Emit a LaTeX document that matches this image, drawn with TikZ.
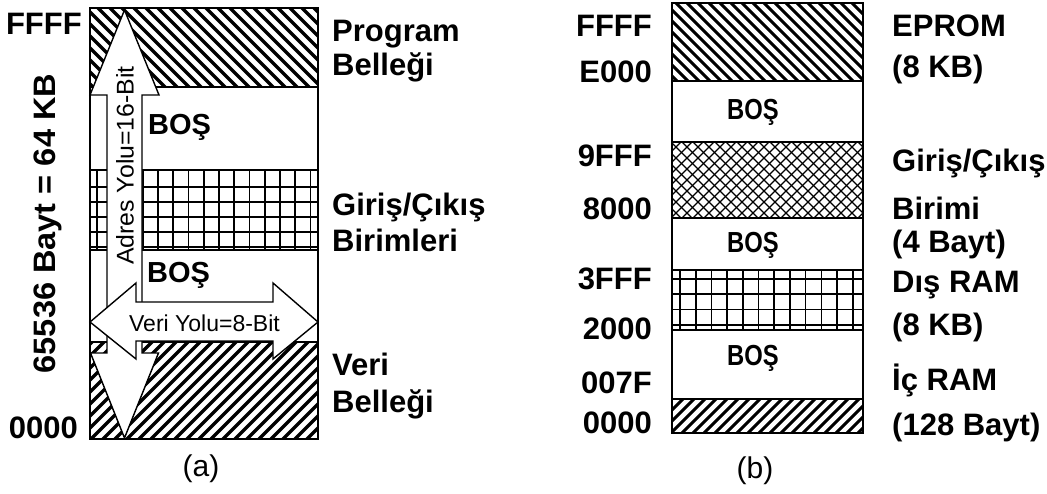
\documentclass[tikz,border=0pt]{standalone}
\usepackage{fontspec}
\setmainfont{Liberation Sans}
\begin{document}
\begin{tikzpicture}[x=1pt,y=-1pt,
  big/.style={font=\bfseries\fontsize{31}{31}\selectfont, inner sep=0pt},
  mid/.style={font=\bfseries\fontsize{29}{29}\selectfont, inner sep=0pt},
  capt/.style={font=\fontsize{30}{30}\selectfont, inner sep=0pt},
  bus/.style={font=\fontsize{23}{23}\selectfont, inner sep=0pt},
  edge/.style={line width=1.5pt},
  hatchA/.style={line width=3.5pt},
  hatchB/.style={line width=3pt},
  gridl/.style={line width=1.6pt},
  xhl/.style={line width=1.1pt},
  arrowshape/.style={fill=white, draw=black, line width=1.4pt, line join=miter}]
\useasboundingbox (0,0) rectangle (1047,494);

% ---------------- panel (a) ----------------
\begin{scope}
\clip (90,8) rectangle (318,87);
\foreach \i in {-90,-78,...,330} \draw[hatchA] (\i,0) -- ++(100,100);
\end{scope}
\begin{scope}
\clip (90,170) rectangle (318,250);
\foreach \x in {97,112.25,...,320} \draw[gridl] (\x,170) -- (\x,250);
\foreach \y in {187,202,217,232,247} \draw[gridl] (90,\y) -- (318,\y);
\end{scope}
\begin{scope}
\clip (90,342) rectangle (318,439);
\foreach \i in {-40,-28,...,330} \draw[hatchA] (\i,450) -- ++(120,-120);
\end{scope}
\draw[edge] (90,87) -- (318,87);
\draw[edge] (90,170) -- (318,170);
\draw[edge] (90,250) -- (318,250);
\draw[edge] (90,342) -- (318,342);
\draw[edge] (90,8) rectangle (318,439);

% address bus arrow (vertical, double headed)
\draw[arrowshape] (124.5,10) -- (159,95) -- (142,95) -- (142,353) -- (158.5,353)
  -- (124.5,438) -- (90.5,353) -- (107,353) -- (107,95) -- (90,95) -- cycle;
% data bus arrow (horizontal, double headed)
\draw[arrowshape] (90,322) -- (136,283) -- (136,302) -- (273,302) -- (273,283)
  -- (318,322) -- (273,359) -- (273,341) -- (136,341) -- (136,359) -- cycle;

\node[bus, rotate=90, anchor=base] (adres) at (133.5,165.5) {\scalebox{1.08}[1.05]{Adres Yolu=16-Bit}};
\node[bus, anchor=base] (veri) at (204.5,332) {Veri Yolu=8-Bit};

\node[big, anchor=base east] (aF) at (82,35) {FFFF};
\node[big, anchor=base east] (a0) at (78,438) {0000};
\node[big, rotate=90, anchor=base] (size) at (55,223.5) {\scalebox{1.05}[1]{65536 Bayt = 64 KB}};
\node[mid, anchor=base west] (bos1) at (148,135) {BOŞ};
\node[mid, anchor=base west] (bos2) at (147,283) {BOŞ};
\node[big, anchor=base west] (prog1) at (332,42) {Program};
\node[big, anchor=base west] (prog2) at (332,76) {Belleği};
\node[big, anchor=base west] (io1) at (332,216) {Giriş/Çıkış};
\node[big, anchor=base west] (io2) at (332,252) {Birimleri};
\node[big, anchor=base west] (vb1) at (332,375) {Veri};
\node[big, anchor=base west] (vb2) at (332,412) {Belleği};
\node[capt, anchor=base] (capa) at (201,476) {(a)};

% ---------------- panel (b) ----------------
\begin{scope}
\clip (672,3) rectangle (863,81);
\foreach \i in {580,591,...,870} \draw[hatchB] (\i,-5) -- ++(100,100);
\end{scope}
\begin{scope}
\clip (672,142) rectangle (863,218);
\foreach \i in {560,571,...,880} {
  \draw[xhl] (\i,130) -- ++(100,100);
  \draw[xhl] (\i,230) -- ++(100,-100);
}
\end{scope}
\begin{scope}
\clip (672,270) rectangle (863,330);
\foreach \x in {680,695.7,...,865} \draw[gridl] (\x,270) -- (\x,330);
\foreach \y in {279,294.3,309.6,325} \draw[gridl] (672,\y) -- (863,\y);
\end{scope}
\begin{scope}
\clip (672,399) rectangle (863,433);
\foreach \i in {620,631,...,870} \draw[hatchB] (\i,440) -- ++(50,-50);
\end{scope}
\draw[edge] (672,81) -- (863,81);
\draw[edge] (672,142) -- (863,142);
\draw[edge] (672,218) -- (863,218);
\draw[edge] (672,270) -- (863,270);
\draw[edge] (672,330) -- (863,330);
\draw[edge] (672,399) -- (863,399);
\draw[edge] (672,3) rectangle (863,433);

\node[mid, anchor=base] (bbos1) at (753,120) {\scalebox{0.82}[1]{BOŞ}};
\node[mid, anchor=base] (bbos2) at (753,253) {\scalebox{0.82}[1]{BOŞ}};
\node[mid, anchor=base] (bbos3) at (753,365) {\scalebox{0.82}[1]{BOŞ}};

\node[big, anchor=base east] (bF) at (652,37) {FFFF};
\node[big, anchor=base east] (bE) at (652,83) {E000};
\node[big, anchor=base east] (b9) at (652,167) {9FFF};
\node[big, anchor=base east] (b8) at (652,220) {8000};
\node[big, anchor=base east] (b3) at (652,290) {3FFF};
\node[big, anchor=base east] (b2) at (652,340) {2000};
\node[big, anchor=base east] (b7) at (652,393) {007F};
\node[big, anchor=base east] (b0) at (652,433) {0000};

\node[big, anchor=base west] (ep1) at (892,37) {EPROM};
\node[big, anchor=base west] (ep2) at (892,78) {(8 KB)};
\node[big, anchor=base west] (gc1) at (892,172) {Giriş/Çıkış};
\node[big, anchor=base west] (gc2) at (892,220) {Birimi};
\node[big, anchor=base west] (gc3) at (892,253) {(4 Bayt)};
\node[big, anchor=base west] (dr1) at (892,293) {Dış RAM};
\node[big, anchor=base west] (dr2) at (892,335) {(8 KB)};
\node[big, anchor=base west] (ir1) at (892,390) {İç RAM};
\node[big, anchor=base west] (ir2) at (892,435) {(128 Bayt)};
\node[capt, anchor=base] (capb) at (755,478) {(b)};
\end{tikzpicture}
\end{document}
